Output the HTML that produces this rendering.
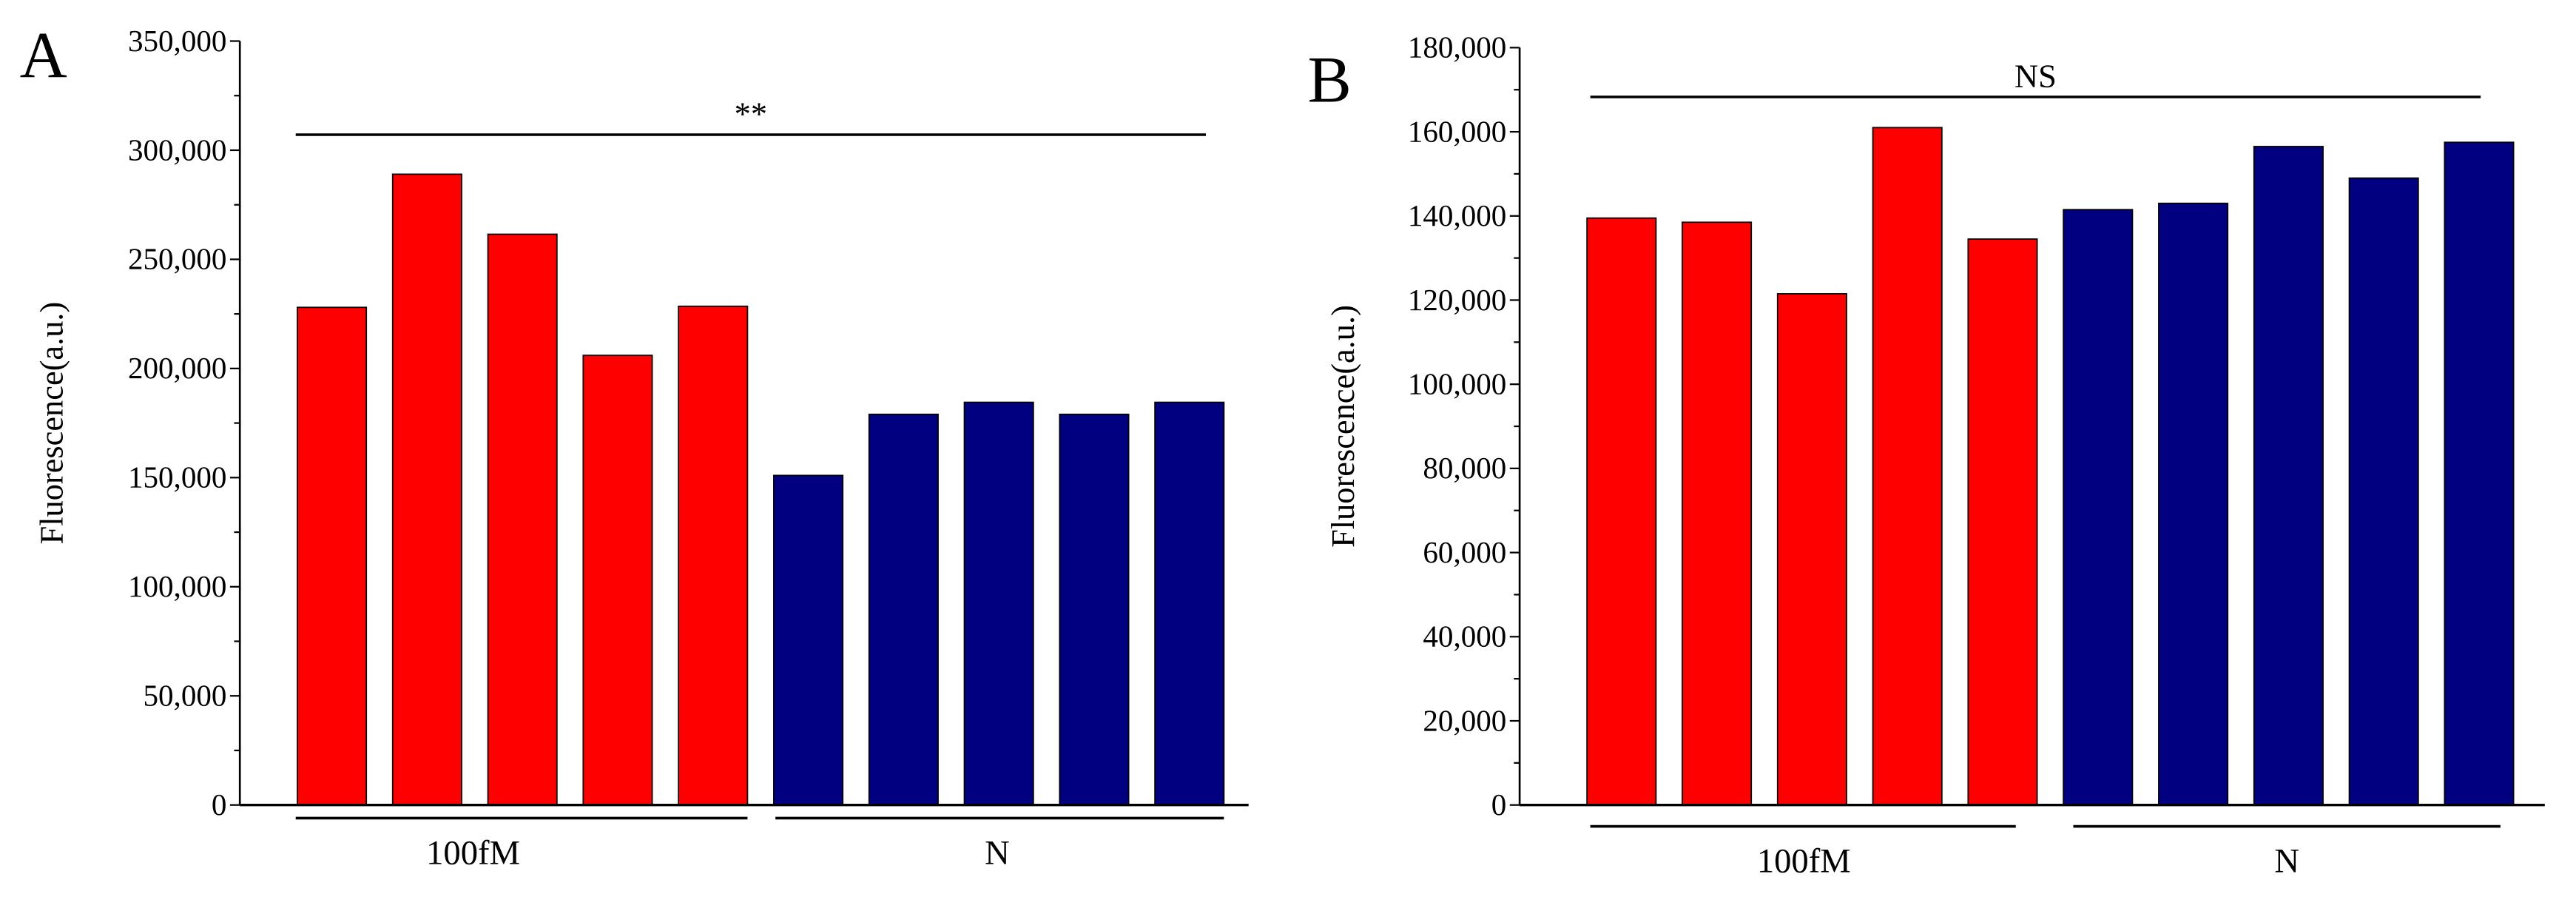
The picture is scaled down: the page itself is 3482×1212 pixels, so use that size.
<!DOCTYPE html>
<html><head><meta charset="utf-8"><style>
html,body{margin:0;padding:0;background:#fff;}
svg{display:block;font-family:"Liberation Serif",serif;}
</style></head><body>
<svg id="fig" width="3482" height="1212" viewBox="0 0 1568 546" preserveAspectRatio="none" xmlns="http://www.w3.org/2000/svg"></svg>
<script>
const catsA = ["100fM-1","100fM-2","100fM-3","100fM-4","100fM-5","N-1","N-2","N-3","N-4","N-5"];
const valuesA = [228000,289000,261500,206000,228500,151000,179000,184500,179000,184500];
const ticksA = [0,50000,100000,150000,200000,250000,300000,350000];
const catsB = ["100fM-1","100fM-2","100fM-3","100fM-4","100fM-5","N-1","N-2","N-3","N-4","N-5"];
const valuesB = [139500,138500,121500,161000,134500,141500,143000,156500,149000,157500];
const ticksB = [0,20000,40000,60000,80000,100000,120000,140000,160000,180000];
const groups = ["100fM","N"];

const NS="http://www.w3.org/2000/svg";
const svg=document.getElementById('fig');
function mk(tag,attrs,parent){const e=document.createElementNS(NS,tag);for(const k in attrs)e.setAttribute(k,attrs[k]);(parent||svg).appendChild(e);return e;}
function fmt(v){return v.toLocaleString('en-US');}

function panel(p){
  const g=mk('g',{});
  
  
  const max=p.ticks[p.ticks.length-1];
  const y=v=>p.y0-(v/max)*(p.y0-p.yTop);
  const x=i=>p.x0+i*p.pitch;
  p.vals.forEach((v,i)=>{
    const r=mk('rect',{x:x(i),y:y(v),width:p.bw,height:p.y0-y(v),fill:i<5?'#ff0000':'#000080',stroke:'#000','stroke-width':0.8},g);
    
    
  });
  const ya=mk('line',{x1:p.ax,y1:p.yTop,x2:p.ax,y2:p.y0,stroke:'#000','stroke-width':1.2},g);
  
  
  const xa=mk('line',{x1:p.ax,y1:p.y0,x2:p.xEnd,y2:p.y0,stroke:'#000','stroke-width':1.5},g);
  
  
  p.ticks.forEach((t,i)=>{
    mk('line',{x1:p.ax-6,y1:y(t),x2:p.ax,y2:y(t),stroke:'#000','stroke-width':1},g);
    if(i<p.ticks.length-1){const m=(t+p.ticks[i+1])/2;mk('line',{x1:p.ax-3.5,y1:y(m),x2:p.ax,y2:y(m),stroke:'#000','stroke-width':1},g);}
    const tx=mk('text',{x:p.ax-8,y:y(t)+6,'text-anchor':'end','font-size':18.5,fill:'#000'},g);
    tx.textContent=fmt(t);
    
    
  });
  const tt=mk('text',{x:0,y:0,transform:`translate(${p.titleX},${(p.y0+p.yTop)/2}) rotate(-90)`,'text-anchor':'middle','font-size':20},g);
  tt.textContent='Fluorescence(a.u.)';
  
  
  const sl=mk('line',{x1:p.sigX1,y1:p.sigY,x2:p.sigX2,y2:p.sigY,stroke:'#000','stroke-width':1.6},g);
  
  
  const st=mk('text',{x:(p.sigX1+p.sigX2)/2,y:p.sigY-6,'text-anchor':'middle','font-size':20},g);
  st.textContent=p.sig;
  
  
  groups.forEach((gn,k)=>{
    const a=p.gR[k][0], b=p.gR[k][1];
    const gl=mk('line',{x1:a,y1:p.gY,x2:b,y2:p.gY,stroke:'#000','stroke-width':1.6},g);
    
    
    const gt=mk('text',{x:p.gX[k],y:p.gY+28,'text-anchor':'middle','font-size':21},g);
    gt.textContent=gn;
    
    
  });
  const pl=mk('text',{x:p.lx,y:p.ly,'font-size':40},g);
  pl.textContent=p.id;
  
  
}
panel({id:'A',cats:catsA,vals:valuesA,ticks:ticksA,ax:146,y0:490,yTop:25,x0:181,pitch:58,bw:42,xEnd:760,titleX:38,sigX1:180,sigX2:734,sigY:82,sig:'**',gY:498,gR:[[180,455],[472,745]],gX:[288,607],lx:12,ly:47});
panel({id:'B',cats:catsB,vals:valuesB,ticks:ticksB,ax:925,y0:490,yTop:29,x0:966,pitch:58,bw:42,xEnd:1549,titleX:824,sigX1:968,sigX2:1510,sigY:59,sig:'NS',gY:503,gR:[[968,1227],[1262,1522]],gX:[1098,1392],lx:796,ly:62});
</script>
</body></html>
